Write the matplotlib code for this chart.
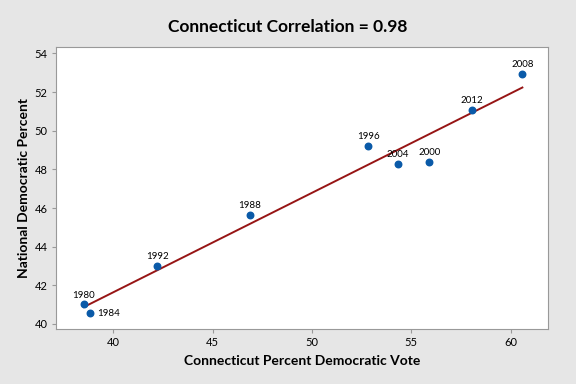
import numpy as np
import matplotlib.pyplot as plt

# Connecticut vs national Democratic vote share
years = ['1980', '1984', '1988', '1992', '1996', '2000', '2004', '2008', '2012']
ct_vote = [38.52, 38.83, 46.87, 42.21, 52.83, 55.91, 54.31, 60.59, 58.06]
nat_vote = [41.01, 40.56, 45.65, 43.01, 49.23, 48.38, 48.27, 52.93, 51.06]

plt.rcParams['font.family'] = ['Lato', 'DejaVu Sans']

fig = plt.figure(figsize=(5.76, 3.84), dpi=100, facecolor='#e6e6e6')
ax = fig.add_axes([0.0972, 0.1432, 0.8542, 0.7344])
ax.set_facecolor('white')

x = np.array(ct_vote)
y = np.array(nat_vote)
slope, icpt = np.polyfit(x, y, 1)
xs = np.array([x.min(), x.max()])
ax.plot(xs, slope * xs + icpt, color='#971515', lw=1.4, zorder=2)
ax.scatter(x, y, s=22, color='#0a5aa8', zorder=3)

for yr, a, b in zip(years, ct_vote, nat_vote):
    if yr == '1984':
        ax.annotate(yr, (a, b), xytext=(5, 0), textcoords='offset points',
                    ha='left', va='center', fontsize=7)
    else:
        ax.annotate(yr, (a, b), xytext=(0, 3.5), textcoords='offset points',
                    ha='center', va='bottom', fontsize=7)

ax.set_xlim(37.12, 61.88)
ax.set_ylim(39.74, 54.33)
ax.set_xticks([40, 45, 50, 55, 60])
ax.set_yticks([40, 42, 44, 46, 48, 50, 52, 54])
ax.tick_params(labelsize=8, length=3, color='#999999', pad=3)
for sp in ax.spines.values():
    sp.set_color('#999999')

ax.set_xlabel('Connecticut Percent Democratic Vote', fontsize=10, fontweight='bold', labelpad=5)
ax.set_ylabel('National Democratic Percent', fontsize=10, fontweight='bold', labelpad=3)
fig.suptitle('Connecticut Correlation = 0.98', fontsize=12.5, fontweight='bold', y=0.95)

fig.savefig('out.png', dpi=100, facecolor=fig.get_facecolor())
